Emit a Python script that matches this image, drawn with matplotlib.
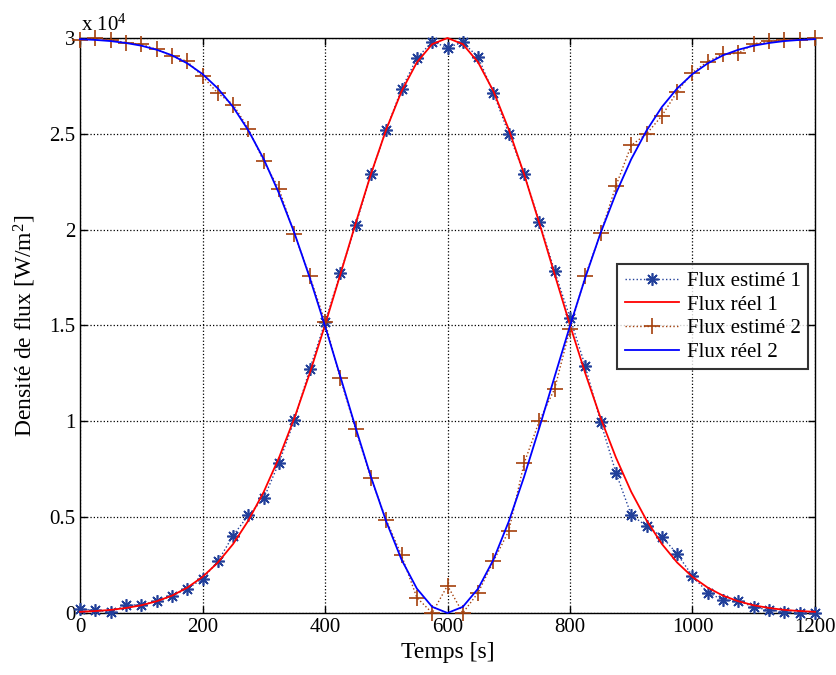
#!/usr/bin/env python3
"""
Flux estimé vs flux réel - recreation of a MATLAB style figure.
Values are given in units of 1e4 W/m^2 (the axis shows "x 10^4").
"""

import numpy as np
import matplotlib
matplotlib.use("Agg")
import matplotlib.pyplot as plt
from matplotlib.ticker import FormatStrFormatter

# Data
temps = np.arange(0, 1225, 25)

flux_estime_1 = [
    0.020, 0.015, 0.004, 0.040, 0.043, 0.061, 0.088, 0.126, 0.178, 0.269,
    0.404, 0.511, 0.598, 0.785, 1.005, 1.272, 1.517, 1.773, 2.023, 2.288,
    2.522, 2.734, 2.895, 2.981, 2.950, 2.978, 2.900, 2.713, 2.501, 2.293,
    2.040, 1.783, 1.540, 1.287, 0.996, 0.732, 0.511, 0.454, 0.398, 0.308,
    0.193, 0.106, 0.068, 0.064, 0.030, 0.016, 0.006, 0.002, 0.002,
]

flux_reel_1 = [
    0.006, 0.010, 0.016, 0.026, 0.040, 0.061, 0.090, 0.132, 0.188, 0.263,
    0.360, 0.483, 0.632, 0.811, 1.017, 1.250, 1.502, 1.766, 2.033, 2.290,
    2.523, 2.722, 2.873, 2.968, 3.000, 2.968, 2.873, 2.722, 2.523, 2.290,
    2.033, 1.766, 1.502, 1.250, 1.017, 0.811, 0.632, 0.483, 0.360, 0.263,
    0.188, 0.132, 0.090, 0.061, 0.040, 0.026, 0.016, 0.010, 0.006,
]

flux_estime_2 = [
    2.990, 3.000, 2.990, 2.976, 2.967, 2.941, 2.906, 2.878, 2.800, 2.712,
    2.653, 2.526, 2.356, 2.212, 1.977, 1.758, 1.520, 1.224, 0.958, 0.704,
    0.485, 0.300, 0.080, 0.000, 0.143, 0.000, 0.106, 0.270, 0.428, 0.780,
    1.003, 1.170, 1.482, 1.760, 1.980, 2.229, 2.440, 2.500, 2.594, 2.720,
    2.820, 2.877, 2.917, 2.920, 2.970, 2.982, 2.988, 2.990, 3.000,
]

flux_reel_2 = [
    2.994, 2.990, 2.984, 2.974, 2.960, 2.939, 2.910, 2.868, 2.812, 2.737,
    2.640, 2.517, 2.368, 2.189, 1.983, 1.750, 1.498, 1.234, 0.967, 0.710,
    0.477, 0.278, 0.127, 0.032, 0.000, 0.032, 0.127, 0.278, 0.477, 0.710,
    0.967, 1.234, 1.498, 1.750, 1.983, 2.189, 2.368, 2.517, 2.640, 2.737,
    2.812, 2.868, 2.910, 2.939, 2.960, 2.974, 2.984, 2.990, 2.994,
]

x_ticks = [0, 200, 400, 600, 800, 1000, 1200]
y_ticks = [0, 0.5, 1, 1.5, 2, 2.5, 3]

# Style
plt.rcParams["font.family"] = ["Liberation Serif", "DejaVu Serif"]
plt.rcParams["mathtext.fontset"] = "custom"
plt.rcParams["mathtext.rm"] = "Liberation Serif"
plt.rcParams["mathtext.it"] = "Liberation Serif:italic"

STAR_BLUE = "#22409A"
BROWN = "#A4400C"

fig = plt.figure(figsize=(8.37, 6.75), dpi=100)
ax = fig.add_axes([0.0956, 0.0919, 0.8781, 0.8518])

ax.plot(temps, flux_estime_1, linestyle=":", color=STAR_BLUE, linewidth=1.0,
        marker=(8, 2, 0), markersize=9, markeredgewidth=1.2,
        label="Flux estimé 1", clip_on=False, zorder=3)
ax.plot(temps, flux_reel_1, linestyle="-", color="#FF0000", linewidth=1.3,
        label="Flux réel 1", clip_on=False, zorder=3)
ax.plot(temps, flux_estime_2, linestyle=":", color=BROWN, linewidth=1.0,
        marker="+", markersize=11, markeredgewidth=1.2,
        label="Flux estimé 2", clip_on=False, zorder=3)
ax.plot(temps, flux_reel_2, linestyle="-", color="#0000FF", linewidth=1.3,
        label="Flux réel 2", clip_on=False, zorder=3)

ax.set_xlim(0, 1200)
ax.set_ylim(0, 3)
ax.set_xticks(x_ticks)
ax.set_yticks(y_ticks)
ax.yaxis.set_major_formatter(FormatStrFormatter("%g"))

ax.grid(True, color="black", linestyle=":", linewidth=0.9)
ax.tick_params(axis="both", direction="in", length=5, width=1,
               top=True, right=True, labelsize=15, colors="black")
for spine in ax.spines.values():
    spine.set_color("black")
    spine.set_linewidth(1.0)

ax.set_xlabel("Temps [s]", fontsize=17, labelpad=4)
ax.set_ylabel("Densité de flux [W/m$^{2}$]", fontsize=17, labelpad=8)

# MATLAB-like exponent label above the y axis
fig.text(0.097, 0.963, "x 10$^{4}$", fontsize=15, ha="left", va="center")

leg = ax.legend(loc="upper left", bbox_to_anchor=(0.731, 0.607),
                fontsize=15, frameon=True, fancybox=False,
                handlelength=2.6, borderpad=0.35, labelspacing=0.2,
                handletextpad=0.4, borderaxespad=0)
leg.get_frame().set_edgecolor("black")
leg.get_frame().set_linewidth(1.5)
leg.set_zorder(5)

plt.savefig("out.png", dpi=100, facecolor="white")
